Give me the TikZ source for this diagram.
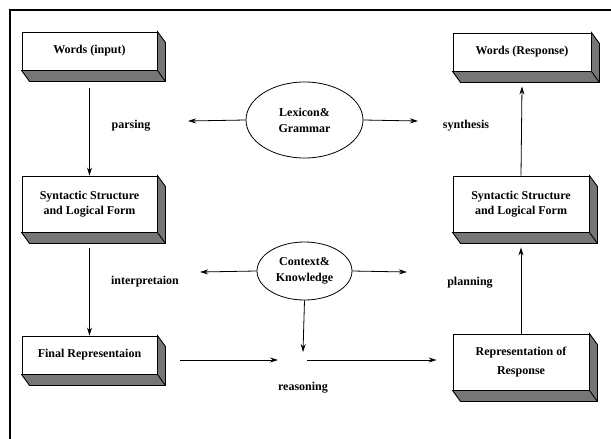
\documentclass[tikz,border=0pt]{standalone}
\usepackage{fontspec}
\setmainfont{Liberation Serif}
\usepackage{tikz}
\usetikzlibrary{calc}
\usetikzlibrary{shapes.geometric, arrows.meta}
\definecolor{slab-gray}{RGB}{118, 118, 118}
\newcommand{\slab}[1]{
	
	\fill [slab-gray,draw=black,line width=.9pt] (#1.north east)--($(#1.north east)+(8,11)$)--($(#1.south east)+(8,11)$)--($(#1.south west)+(8,11)$)--(#1.south west)--(#1.south east)-- cycle;
	\draw [line width=.9pt] (#1.south east)--($(#1.south east)+(8,11)$);
}

\begin{document}
\begin{tikzpicture}[x=1pt,y=-1pt,
	box/.style={draw,rectangle,line width=.9pt,fill=white,minimum width=135pt,align=center,inner sep=2pt,font=\fontsize{12}{14.5}\selectfont\bfseries},
	blob/.style={draw,ellipse,line width=.8pt,inner sep=0pt,align=center,font=\fontsize{12}{16}\selectfont\bfseries},
	lbl/.style={font=\fontsize{12}{14}\selectfont\bfseries},
	>={Stealth[length=8pt,width=5pt]}, line width=.8pt]
\useasboundingbox (0,0) rectangle (611,439);
\draw [line width=1.2pt] (10,439)--(10,10)--(611,10);

\node [box,minimum height=38pt] (win) at (89.5,51) {Words (input)};
\node [box,minimum height=56pt] (synl) at (89.5,204) {Syntactic Structure\\and Logical Form};
\node [box,minimum height=38pt] (fin) at (89.5,355) {Final Representaion};
\node [box,minimum height=38pt,minimum width=138pt] (wout) at (522,52) {Words (Response)};
\node [box,minimum height=56pt,minimum width=136pt] (synr) at (521,204) {Syntactic Structure\\and Logical Form};
\node [box,minimum height=56pt,minimum width=136pt] (rres) at (521,362) {Representation of\\[5pt]Response};
\foreach \n in {win,synl,fin,wout,synr,rres}{
	\slab{\n}
}

\node [blob,minimum width=117pt,minimum height=76pt] (lex) at (304.5,120) {Lexicon\&\\Grammar};
\node [blob,minimum width=95pt,minimum height=58pt] (ctx) at (304.5,271) {Context\&\\Knowledge};

\node [lbl] (parse) at (131,126) {parsing};
\node [lbl] (synth) at (466,126) {synthesis};
\node [lbl] (interp) at (145,282) {interpretaion};
\node [lbl] (plan) at (470,283) {planning};
\node [lbl] (reason) at (303,388) {reasoning};

\coordinate (lexl) at (188,121);
\coordinate (lexr) at (418,121);
\coordinate (ctxl) at (200,272);
\coordinate (ctxr) at (407,272);
\coordinate (ctxd) at (303,352);
\coordinate (reasl) at (278,360);
\coordinate (reasr) at (307,360);

\draw [->] ([yshift=-18pt]win.south)--(synl.north);
\draw [->] ([yshift=-16pt]synl.south)--(fin.north);
\draw [->] (synr.north)--([yshift=-15pt]wout.south);
\draw [->] (rres.north)--([yshift=-15pt]synr.south);
\draw [->] (lex.west)--(lexl);
\draw [->] (lex.east)--(lexr);
\draw [->] (ctx.west)--(ctxl);
\draw [->] (ctx.east)--(ctxr);
\draw [->] (ctx.south)--(ctxd);
\draw [->] ([xshift=23pt,yshift=-5pt]fin.east)--(reasl);
\draw [->] (reasr)--([xshift=-16pt,yshift=2pt]rres.west);
\end{tikzpicture}
\end{document}
